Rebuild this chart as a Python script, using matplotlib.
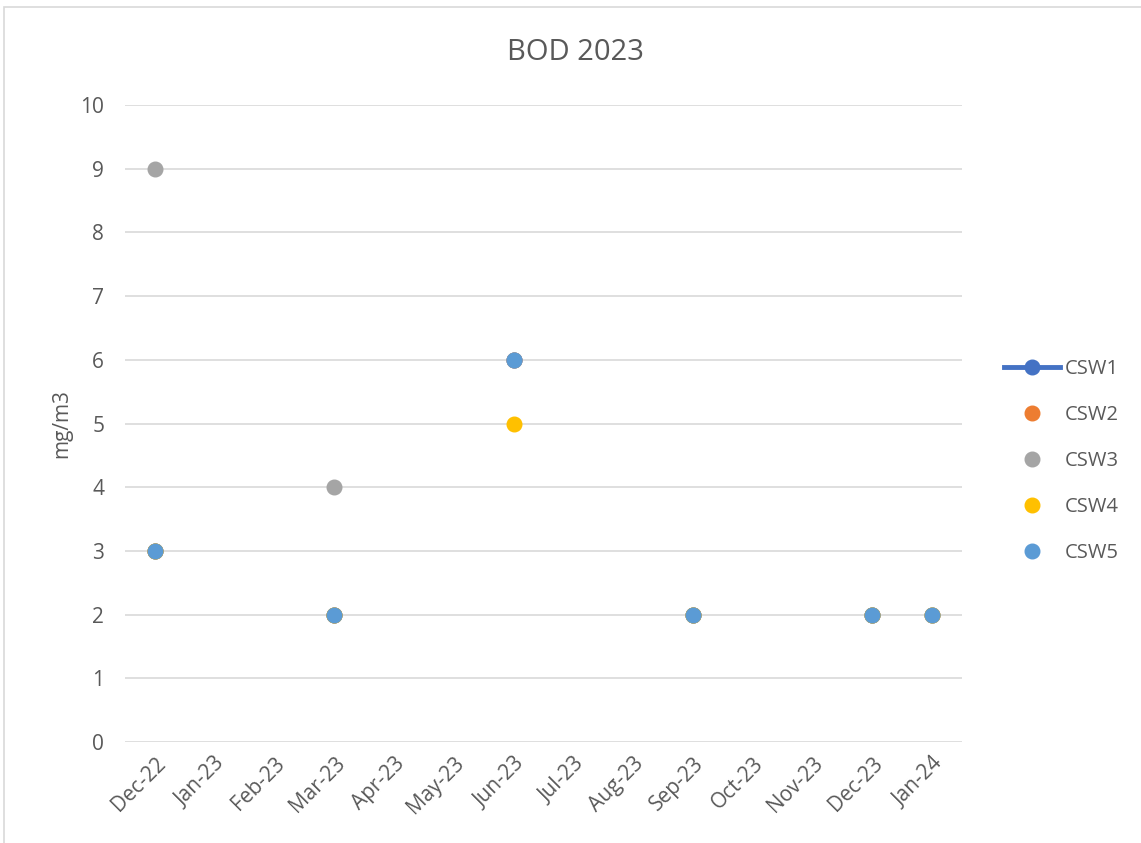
import numpy as np
import matplotlib.pyplot as plt
from matplotlib.patches import Rectangle

nan = np.nan
months = ["Dec-22", "Jan-23", "Feb-23", "Mar-23", "Apr-23", "May-23", "Jun-23",
          "Jul-23", "Aug-23", "Sep-23", "Oct-23", "Nov-23", "Dec-23", "Jan-24"]

# one value per month, nan where nothing was sampled
csw1 = [3, nan, nan, 2, nan, nan, 6, nan, nan, 2, nan, nan, 2, nan]
csw2 = [3, nan, nan, 2, nan, nan, 6, nan, nan, 2, nan, nan, 2, 2]
csw3 = [9, nan, nan, 4, nan, nan, 6, nan, nan, 2, nan, nan, 2, 2]
csw4 = [3, nan, nan, 2, nan, nan, 5, nan, nan, 2, nan, nan, 2, 2]
csw5 = [3, nan, nan, 2, nan, nan, 6, nan, nan, 2, nan, nan, 2, 2]

series = [("CSW1", csw1, "#4472C4"),
          ("CSW2", csw2, "#ED7D31"),
          ("CSW3", csw3, "#A5A5A5"),
          ("CSW4", csw4, "#FFC000"),
          ("CSW5", csw5, "#5B9BD5")]

text_color = "#595959"
plt.rcParams['font.family'] = ['Open Sans', 'DejaVu Sans']

fig = plt.figure(figsize=(11.41, 8.43), dpi=100, facecolor="white")
# chart frame (only the top and left edges fall inside the image)
fig.patches.append(Rectangle((0.0035, -0.5), 1.5, 1.4917, transform=fig.transFigure,
                             fill=False, edgecolor="#D9D9D9", linewidth=1.2))

ax = fig.add_axes([0.1096, 0.1198, 0.7335, 0.7556])
x = np.arange(len(months))
handles = []
for i, (name, vals, color) in enumerate(series):
    ls = "-" if i == 0 else "none"
    h, = ax.plot(x, vals, linestyle=ls, linewidth=3.5, marker="o",
                 markersize=10.5, color=color, label=name, zorder=3 + i)
    handles.append(h)

ax.set_xlim(-0.5, 13.5)
ax.set_ylim(0, 10)
ax.set_yticks(range(0, 11))
ax.set_xticks(x)
ax.set_xticklabels(months, rotation=45, ha="right", rotation_mode="anchor")
ax.tick_params(axis="both", length=0, labelsize=15, colors=text_color)
ax.tick_params(axis="y", pad=15)
ax.tick_params(axis="x", pad=8)
ax.grid(axis="y", color="#D9D9D9", linewidth=1.2)
ax.set_axisbelow(True)
for s in ax.spines.values():
    s.set_visible(False)

ax.set_ylabel("mg/m3", fontsize=15, color=text_color, labelpad=6)
fig.text(0.504, 0.938, "BOD 2023", ha="center", va="center",
         fontsize=21, color=text_color)

fig.legend(handles=handles, loc="center left", bbox_to_anchor=(0.864, 0.453),
           frameon=False, fontsize=14.5, labelcolor=text_color,
           handlelength=2.8, handletextpad=0.2, labelspacing=1.3)

fig.savefig("out.png", dpi=100, facecolor="white")
